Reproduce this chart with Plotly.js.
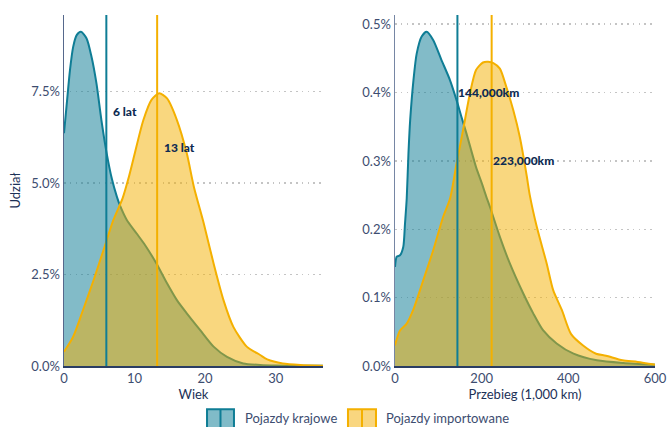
<!DOCTYPE html>
<html>
<head>
<meta charset="utf-8">
<script src="https://cdn.plot.ly/plotly-3.0.1.min.js"></script>
<style>html,body{margin:0;padding:0;background:#fff;}#chart{width:668px;height:427px;}</style>
</head>
<body>
<div id="chart"></div>
<script>
// ---- Data (shares in %) ----
const ageDomestic = [0, 0.4, 0.85, 1.3, 1.8, 2.4, 3.2, 3.9, 4.6, 5.3, 6.05, 6.8, 7.5, 7.9, 8.9, 10.3, 11.5, 13.1, 14.6, 16, 17.4, 19.3, 21.2, 23.1, 25.4, 27.8, 30, 36.7];
const shareAgeDomestic = [6.36, 7.18, 8.09, 8.72, 9.04, 9.13, 8.95, 8.45, 7.72, 6.72, 5.81, 5.1, 4.62, 4.4, 3.99, 3.62, 3.3, 2.8, 2.26, 1.8, 1.44, 0.98, 0.53, 0.25, 0.07, 0.03, 0.015, 0.005];

const ageImported = [0, 1.3, 2.7, 4.2, 5.6, 7.0, 8.3, 9.1, 9.8, 11.25, 12.4, 13.5, 14.6, 16, 17.4, 18.4, 19.8, 21.2, 22.6, 24, 25.9, 27.8, 28.8, 31, 33.5, 36.7];
const shareAgeImported = [0.39, 0.8, 1.53, 2.35, 3.17, 3.99, 4.58, 5.1, 5.63, 6.72, 7.27, 7.45, 7.31, 6.72, 5.81, 4.9, 3.9, 2.8, 1.8, 1.07, 0.53, 0.3, 0.18, 0.07, 0.03, 0.01];

const kmDomestic = [0, 4, 11.5, 19, 23, 27, 31, 35, 42.5, 50, 61.5, 73, 88, 107, 127, 142, 153, 165, 187, 200, 210, 219, 242, 265, 296, 319, 342, 373, 412, 466, 527, 600];
const shareKmDomestic = [0.145, 0.16, 0.162, 0.174, 0.208, 0.245, 0.311, 0.36, 0.418, 0.457, 0.482, 0.489, 0.477, 0.448, 0.418, 0.389, 0.365, 0.34, 0.291, 0.268, 0.249, 0.233, 0.189, 0.15, 0.106, 0.077, 0.052, 0.033, 0.018, 0.0083, 0.0044, 0.002];

const kmImported = [0, 2, 11.5, 27, 42, 65, 88, 111, 127, 142, 157, 173, 187, 203, 215, 227, 242, 257, 273, 288, 304, 311, 327, 350, 365, 385, 406, 434, 464, 487, 525, 560, 600];
const shareKmImported = [0.03, 0.035, 0.052, 0.062, 0.082, 0.125, 0.169, 0.218, 0.245, 0.296, 0.345, 0.399, 0.433, 0.444, 0.445, 0.443, 0.435, 0.408, 0.374, 0.335, 0.278, 0.25, 0.204, 0.15, 0.111, 0.082, 0.047, 0.03, 0.018, 0.015, 0.0083, 0.006, 0.002];

const medianAge = [6, 13.2];
const medianAgeLabels = ['6 lat', '13 lat'];
const medianAgeLabelY = [6.94, 5.96];
const medianKm = [144, 223];
const medianKmLabels = ['144,000km', '223,000km'];
const medianKmLabelY = [0.4, 0.3];

const seriesNames = ['Pojazdy krajowe', 'Pojazdy importowane'];

const xTicksAge = [0, 10, 20, 30];
const yTicksAge = [0, 2.5, 5, 7.5];
const xTicksKm = [0, 200, 400, 600];
const yTicksKm = [0, 0.1, 0.2, 0.3, 0.4, 0.5];

// ---- Styles ----
const lineCol = ['#0f7d95', '#f4b000'];
const fillCol = ['rgba(15,125,149,0.52)', 'rgba(244,176,0,0.5)'];
const legendFill = ['#80bbc8', '#f9d67f'];
const tickCol = '#3d4d70';
const titleCol = '#1c3157';
const annCol = '#0e2b52';
const FONT = 'Lato, "Open Sans", sans-serif';

function area(x, y, i, xa, ya) {
  return {
    x: x, y: y, xaxis: xa, yaxis: ya, type: 'scatter', mode: 'lines',
    line: {color: lineCol[i], width: 2, shape: 'spline', smoothing: 0.7},
    fill: 'tozeroy', fillcolor: fillCol[i],
    name: seriesNames[i], showlegend: false, hoverinfo: 'x+y'
  };
}

const data = [
  area(ageDomestic, shareAgeDomestic, 0, 'x', 'y'),
  area(ageImported, shareAgeImported, 1, 'x', 'y'),
  area(kmDomestic, shareKmDomestic, 0, 'x2', 'y2'),
  area(kmImported, shareKmImported, 1, 'x2', 'y2')
];

const shapes = [];
const annotations = [];
medianAge.forEach((m, i) => {
  shapes.push({type: 'line', xref: 'x', yref: 'y domain', x0: m, x1: m, y0: 0, y1: 1,
    line: {color: lineCol[i], width: 2}});
  annotations.push({xref: 'x', yref: 'y', x: m, y: medianAgeLabelY[i], text: medianAgeLabels[i],
    showarrow: false, xanchor: 'left', xshift: 5, font: {family: FONT, size: 12, weight: 900, color: annCol}});
});
medianKm.forEach((m, i) => {
  shapes.push({type: 'line', xref: 'x2', yref: 'y2 domain', x0: m, x1: m, y0: 0, y1: 1,
    line: {color: lineCol[i], width: 2}});
  annotations.push({xref: 'x2', yref: 'y2', x: m, y: medianKmLabelY[i], text: medianKmLabels[i],
    showarrow: false, xanchor: 'left', xshift: -1, font: {family: FONT, size: 12, weight: 900, color: annCol}});
});

// legend (manual, paper coords)
const legendBoxes = [[0.242, 0.2876, 0.2648], [0.4805, 0.5279, 0.5042]];
const legendTextX = [0.3029, 0.5415];
legendBoxes.forEach((b, i) => {
  shapes.push({type: 'rect', xref: 'paper', yref: 'paper', x0: b[0], x1: b[1], y0: -0.178, y1: -0.123,
    fillcolor: legendFill[i], line: {color: lineCol[i], width: 2}});
  shapes.push({type: 'line', xref: 'paper', yref: 'paper', x0: b[2], x1: b[2], y0: -0.178, y1: -0.123,
    line: {color: lineCol[i], width: 2}});
  annotations.push({xref: 'paper', yref: 'paper', x: legendTextX[i], y: -0.149, text: seriesNames[i],
    showarrow: false, xanchor: 'left', yanchor: 'middle', font: {family: FONT, size: 13, color: tickCol}});
});

function axisCommon() {
  return {
    showline: true, linewidth: 1.5, zeroline: false, ticks: '', fixedrange: true,
    tickfont: {family: FONT, size: 13, color: tickCol}
  };
}

const layout = {
  width: 668, height: 427,
  margin: {l: 64, r: 13, t: 15, b: 61},
  paper_bgcolor: '#ffffff', plot_bgcolor: '#ffffff',
  showlegend: false,
  font: {family: FONT, color: tickCol},
  xaxis: Object.assign(axisCommon(), {
    domain: [0, 0.4382], range: [0, 36.7], tickvals: xTicksAge, showgrid: false,
    linecolor: '#2a3d63',
    title: {text: 'Wiek', standoff: 2, font: {family: FONT, size: 13, color: titleCol}}
  }),
  yaxis: Object.assign(axisCommon(), {
    domain: [0, 1], range: [0, 9.59], tickvals: yTicksAge, ticktext: yTicksAge.map(v => v.toFixed(1) + '%'),
    showgrid: true, gridcolor: '#c4c4c4', griddash: '1.5px,4.3px', gridwidth: 1.5,
    linecolor: '#56688c',
    title: {text: 'Udział', standoff: 8, font: {family: FONT, size: 13, color: titleCol}}
  }),
  xaxis2: Object.assign(axisCommon(), {
    domain: [0.5601, 1], range: [0, 600], tickvals: xTicksKm, showgrid: false, anchor: 'y2',
    linecolor: '#2a3d63',
    title: {text: 'Przebieg (1,000 km)', standoff: 2, font: {family: FONT, size: 13, color: titleCol}}
  }),
  yaxis2: Object.assign(axisCommon(), {
    domain: [0, 1], range: [0, 0.5135], tickvals: yTicksKm, ticktext: yTicksKm.map(v => v.toFixed(1) + '%'),
    showgrid: true, gridcolor: '#c4c4c4', griddash: '1.5px,4.3px', gridwidth: 1.5, anchor: 'x2',
    linecolor: '#7686a4'
  }),
  shapes: shapes,
  annotations: annotations
};

Plotly.newPlot('chart', data, layout, {displayModeBar: false, staticPlot: true});
</script>
</body>
</html>
